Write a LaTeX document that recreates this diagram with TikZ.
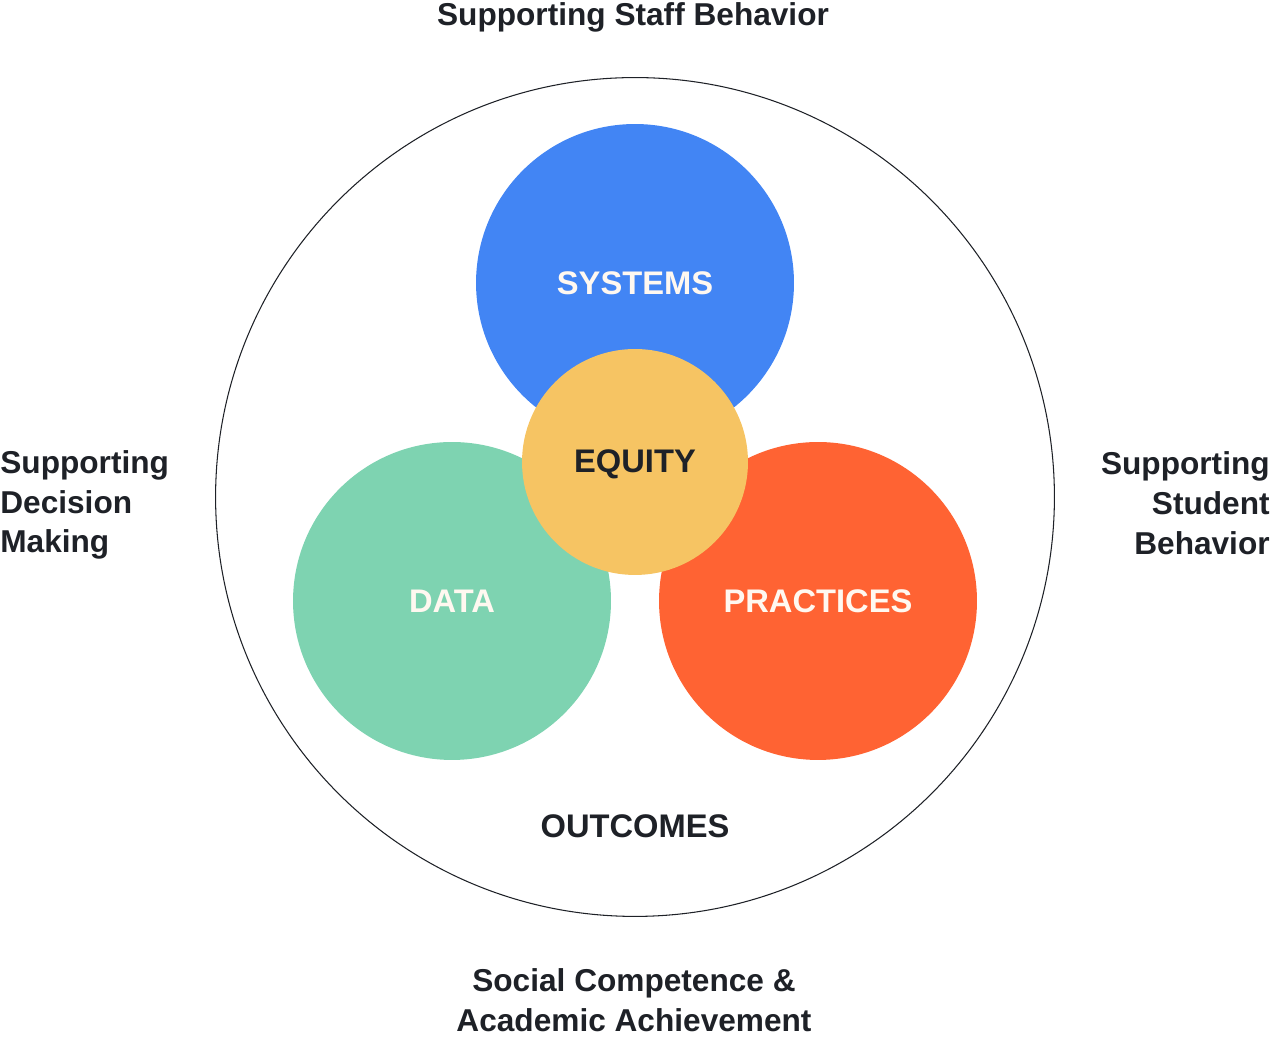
\documentclass[tikz,border=0pt]{standalone}
\usepackage{fontspec}
\setmainfont{Liberation Sans}
\definecolor{sysblue}{HTML}{4285F4}
\definecolor{datagreen}{HTML}{7ED3B1}
\definecolor{pracorange}{HTML}{FF6333}
\definecolor{eqyellow}{HTML}{F6C463}
\definecolor{inkdark}{HTML}{1E2127}
\definecolor{cream}{HTML}{FFF8F0}
\tikzset{
  disc/.style={circle,inner sep=0pt,minimum size=6.36cm},
  caption/.style={font=\bfseries\fontsize{18}{22.7}\selectfont,text=inkdark,inner sep=0pt},
  inlabel/.style={font=\bfseries\fontsize{18.6}{22.7}\selectfont,inner sep=0pt}
}
\begin{document}
\begin{tikzpicture}[x=0.02cm,y=0.02cm]
\useasboundingbox (0,0) rectangle (1270,1060);
% outer ring
\node[circle,draw=inkdark,line width=0.6pt,minimum size=16.78cm,inner sep=0pt] (outer) at (635,563) {};
% the three discs and the centre
\node[disc,fill=sysblue] (systems) at (635,777) {};
\node[disc,fill=datagreen] (data) at (452,459) {};
\node[disc,fill=pracorange] (practices) at (818,459) {};
\node[circle,inner sep=0pt,minimum size=4.52cm,fill=eqyellow] (equity) at (635,598) {};
\node[inlabel,text=cream] at (systems) {SYSTEMS};
\node[inlabel,text=cream] at (data) {DATA};
\node[inlabel,text=cream] at (practices) {PRACTICES};
\node[inlabel,text=inkdark,yshift=-1.6pt] at (equity) {EQUITY};
\node[inlabel,text=inkdark] (outcomes) at (635,234) {OUTCOMES};
% labels round the ring
\node[caption] (staff) at (633,1043) {Supporting Staff Behavior};
\node[caption,anchor=west,align=left] (decision) at (0,555) {Supporting\\Decision\\Making};
\node[caption,anchor=east,align=right] (student) at (1270,557) {Supporting\\Student\\Behavior};
\node[caption,align=center] (social) at (634,60) {Social Competence \&\\Academic Achievement};
\end{tikzpicture}
\end{document}
